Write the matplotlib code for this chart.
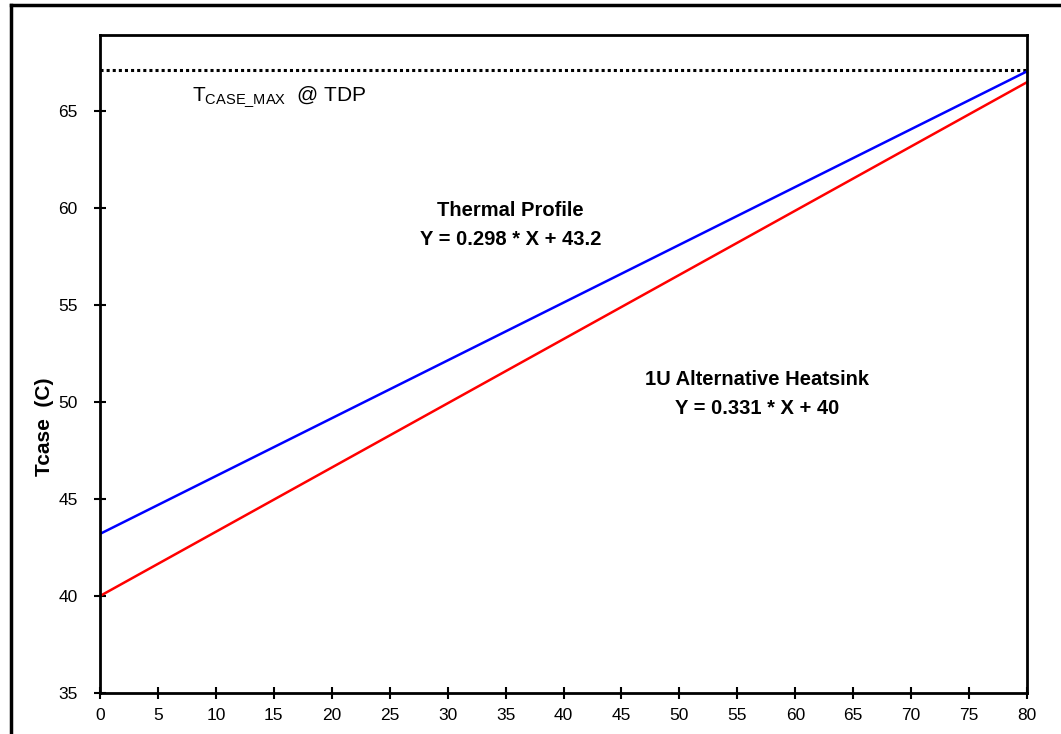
import matplotlib
matplotlib.use("Agg")
import matplotlib.pyplot as plt
import numpy as np

plt.rcParams['font.family'] = ['Liberation Sans', 'DejaVu Sans']
plt.rcParams['mathtext.fontset'] = 'custom'
plt.rcParams['mathtext.rm'] = 'Liberation Sans'

# Data
x_range = [0, 80]
tcase_max = 67.1
profile_slope, profile_icpt = 0.298, 43.2
alt_slope, alt_icpt = 0.331, 40.0
x_ticks = list(range(0, 85, 5))
y_ticks = list(range(35, 70, 5))

x = np.array(x_range, dtype=float)

fig = plt.figure(figsize=(10.61, 7.34), dpi=100)
ax = fig.add_axes([0.0943, 0.0559, 0.8737, 0.8961])

ax.plot(x, [tcase_max, tcase_max], color='black', linestyle=(0, (1, 1)), linewidth=2.2)
ax.plot(x, profile_slope * x + profile_icpt, color='blue', linewidth=1.8)
ax.plot(x, alt_slope * x + alt_icpt, color='red', linewidth=1.8)

ax.set_xlim(0, 80)
ax.set_ylim(35, 68.9)
ax.set_xticks(x_ticks)
ax.set_yticks(y_ticks)
ax.tick_params(direction='inout', length=8, width=1.5, labelsize=12.5)
ax.tick_params(axis='y', pad=12)
ax.tick_params(axis='x', pad=7)
for s in ax.spines.values():
    s.set_linewidth(2)

ax.set_ylabel('Tcase  (C)', fontsize=15, fontweight='bold')
ax.yaxis.set_label_coords(-0.05, 0.404)

ax.text(35.4, 59.1, 'Thermal Profile\nY = 0.298 * X + 43.2', ha='center', va='center',
        fontsize=14.5, fontweight='bold', linespacing=1.65)
ax.text(56.7, 50.4, '1U Alternative Heatsink\nY = 0.331 * X + 40', ha='center', va='center',
        fontsize=14.5, fontweight='bold', linespacing=1.65)
ax.text(7.9, 65.7, r'T$_{\mathrm{CASE\_MAX}}$  @ TDP', ha='left', va='center', fontsize=15)

# figure border (left and top visible)
fig.add_artist(plt.Line2D([0.0104, 0.0104], [0, 0.993], color='black', linewidth=2.5,
                          transform=fig.transFigure))
fig.add_artist(plt.Line2D([0.0104, 1], [0.993, 0.993], color='black', linewidth=2.5,
                          transform=fig.transFigure))

fig.savefig('out.png', dpi=100)
